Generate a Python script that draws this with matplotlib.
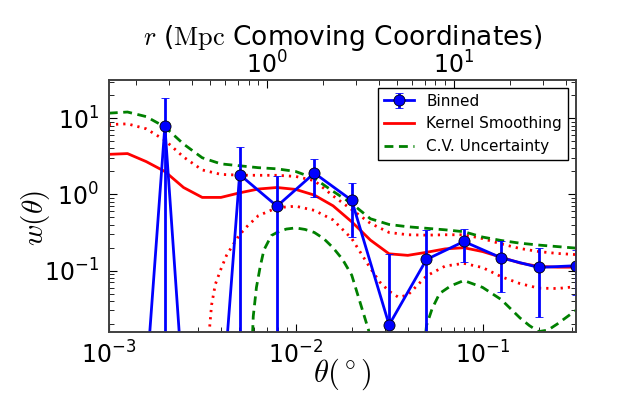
import numpy as np
import matplotlib
matplotlib.use('Agg')
import matplotlib.pyplot as plt

plt.rcParams['mathtext.fontset'] = 'cm'
plt.rcParams['font.family'] = 'DejaVu Sans'

# binned w(theta): log10 of bin centre (deg), value, 1-sigma error
bin_logtheta = [-2.9, -2.7, -2.5, -2.3, -2.1, -1.9, -1.7, -1.5, -1.3, -1.1, -0.9, -0.7, -0.5]
w_binned = [1.6e-6, 7.85, 7e-7, 1.82, 0.70, 1.90, 0.835, 0.0194, 0.14, 0.241, 0.147, 0.110, 0.116]
w_err = [0, 10.3, 0, 2.3, 1.05, 0.98, 0.56, 0.145, 0.20, 0.112, 0.095, 0.085, 0.068]

# kernel smoothing and upper bands, read on a 0.1 dex grid (log10 w)
grid_logtheta = [-3.0, -2.9, -2.8, -2.7, -2.6, -2.5, -2.4, -2.3, -2.2, -2.1, -2.0, -1.9, -1.8,
                 -1.7, -1.6, -1.5, -1.4, -1.3, -1.2, -1.1, -1.0, -0.9, -0.8, -0.7, -0.6, -0.5]
ks_logw = [0.525, 0.535, 0.43, 0.30, 0.09, -0.04, -0.04, 0.02, 0.07, 0.09, 0.065, -0.01, -0.15,
           -0.36, -0.60, -0.78, -0.80, -0.76, -0.715, -0.70, -0.75, -0.825, -0.90, -0.945, -0.955, -0.955]
ks_hi_logw = [0.915, 0.925, 0.86, 0.71, 0.49, 0.32, 0.262, 0.252, 0.25, 0.25, 0.235, 0.18, -0.02,
              -0.20, -0.38, -0.50, -0.53, -0.535, -0.53, -0.53, -0.58, -0.65, -0.71, -0.75, -0.775, -0.79]
cv_hi_logw = [1.065, 1.08, 1.02, 0.885, 0.66, 0.48, 0.40, 0.375, 0.35, 0.335, 0.30, 0.21, 0.04,
              -0.12, -0.32, -0.395, -0.425, -0.445, -0.465, -0.49, -0.56, -0.605, -0.64, -0.665, -0.685, -0.705]

# lower bands
ks_lo_logtheta = [-2.48, -2.45, -2.43, -2.40, -2.37, -2.33, -2.3, -2.26, -2.2, -2.1, -2.0, -1.9, -1.8,
                  -1.7, -1.6, -1.55, -1.5, -1.45, -1.4, -1.3, -1.2, -1.1, -1.0, -0.9, -0.8, -0.7, -0.6, -0.5]
ks_lo_logw = [-2.3, -1.45, -1.18, -0.98, -0.80, -0.64, -0.53, -0.42, -0.28, -0.175, -0.155, -0.21, -0.335,
              -0.58, -0.97, -1.15, -1.27, -1.35, -1.32, -1.07, -0.94, -0.905, -0.96, -1.08, -1.17, -1.23, -1.235, -1.21]
cv_lo_logtheta = [-2.24, -2.227, -2.21, -2.19, -2.17, -2.13, -2.1, -2.05, -2.0, -1.95, -1.9, -1.85, -1.8,
                  -1.75, -1.7, -1.66, -1.61, -1.59, -1.45, -1.32, -1.30, -1.27, -1.23, -1.17, -1.1, -1.0,
                  -0.9, -0.85, -0.8, -0.75, -0.7, -0.65, -0.6, -0.55, -0.5]
cv_lo_logw = [-2.4, -1.6, -1.22, -0.95, -0.73, -0.54, -0.5, -0.455, -0.44, -0.46, -0.50, -0.58, -0.70,
              -0.85, -1.06, -1.38, -1.78, -2.2, -3.0, -2.2, -1.72, -1.50, -1.30, -1.20, -1.13, -1.22,
              -1.38, -1.50, -1.62, -1.72, -1.80, -1.78, -1.70, -1.61, -1.52]

MPC_PER_DEG = 143.0
xlim = (1e-3, 10 ** -0.5)
ylim = (10 ** -1.8, 10 ** 1.5)

theta = 10 ** np.array(grid_logtheta)

fig, ax = plt.subplots(figsize=(6.4, 4), dpi=100)
fig.subplots_adjust(left=0.17, right=0.9, bottom=0.171, top=0.8)

dots = (0, (0.8, 1.8))
dashes = (0, (3.2, 2.0))
eb = ax.errorbar(10 ** np.array(bin_logtheta), w_binned, yerr=w_err, fmt='o-', color='b',
                 ms=8, mec='k', mew=0.6, lw=2, elinewidth=2, capsize=3, capthick=1.5,
                 label='Binned', zorder=4)
ks_line, = ax.plot(theta, 10 ** np.array(ks_logw), color='r', lw=2, label='Kernel Smoothing')
ax.plot(theta, 10 ** np.array(ks_hi_logw), color='r', ls=dots, lw=2)
ax.plot(10 ** np.array(ks_lo_logtheta), 10 ** np.array(ks_lo_logw), color='r', ls=dots, lw=2)
cv_line, = ax.plot(theta, 10 ** np.array(cv_hi_logw), color='g', ls=dashes, lw=2, label='C.V. Uncertainty')
ax.plot(10 ** np.array(cv_lo_logtheta), 10 ** np.array(cv_lo_logw), color='g', ls=dashes, lw=2)

ax.set_xscale('log')
ax.set_yscale('log')
ax.set_xlim(*xlim)
ax.set_ylim(*ylim)
ax.set_xlabel(r'$\theta(^\circ)$', fontsize=22)
ax.xaxis.set_label_coords(0.5, -0.1)
ax.set_ylabel(r'$w(\theta)$', fontsize=21)
ax.yaxis.set_label_coords(-0.122, 0.45)
ax.tick_params(which='both', direction='in', right=True, labelsize=17, pad=7)
ax.tick_params(which='major', length=6)
ax.tick_params(which='minor', length=3.5)

leg = ax.legend([eb, ks_line, cv_line], ['Binned', 'Kernel Smoothing', 'C.V. Uncertainty'],
                loc='upper right', numpoints=1, fontsize=11, fancybox=False,
                framealpha=1, edgecolor='k')
leg.get_frame().set_linewidth(1.0)

ax2 = ax.twiny()
ax2.set_xscale('log')
ax2.set_xlim(MPC_PER_DEG * xlim[0], MPC_PER_DEG * xlim[1])
ax2.set_xlabel(r'$r$ ($\mathrm{Mpc}$ Comoving Coordinates)', fontsize=19)
ax2.xaxis.set_label_coords(0.5, 1.14)
ax2.tick_params(which='both', direction='in', labelsize=17, pad=1)
ax2.tick_params(which='major', length=6)
ax2.tick_params(which='minor', length=3.5)

for a in (ax, ax2):
    for s in a.spines.values():
        s.set_color('0.25')
        s.set_linewidth(1.2)

fig.savefig('out.png', dpi=100)
